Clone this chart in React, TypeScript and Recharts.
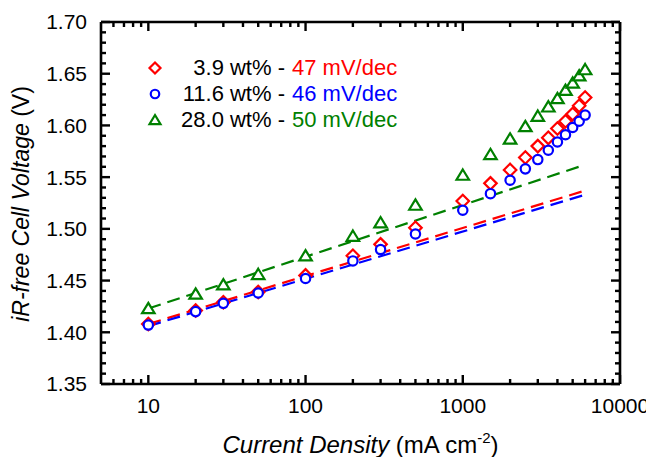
import { ComposedChart, Scatter, XAxis, YAxis, Legend, Label } from "recharts"

// current density (mA cm-2)
const currentDensity = [10, 20, 30, 50, 100, 200, 300, 500, 1000, 1500, 2000, 2500, 3000, 3500, 4000, 4500, 5000, 5500, 6000]
// iR-free cell voltage (V)
const voltage39 = [1.408, 1.421, 1.429, 1.439, 1.455, 1.474, 1.485, 1.501, 1.527, 1.544, 1.557, 1.569, 1.58, 1.588, 1.597, 1.604, 1.611, 1.619, 1.627]
const voltage116 = [1.407, 1.42, 1.428, 1.438, 1.452, 1.469, 1.48, 1.495, 1.518, 1.534, 1.547, 1.558, 1.567, 1.576, 1.584, 1.591, 1.598, 1.604, 1.61]
const voltage280 = [1.423, 1.437, 1.446, 1.456, 1.474, 1.493, 1.506, 1.523, 1.552, 1.572, 1.587, 1.599, 1.609, 1.618, 1.626, 1.634, 1.641, 1.648, 1.654]

// Tafel fit end points
const fitRange = [10, 6000]
const fit39 = [1.408, 1.537]
const fit116 = [1.406, 1.533]
const fit280 = [1.423, 1.562]

const loadings = ["3.9 wt%", "11.6 wt%", "28.0 wt%"]
const slopes = ["47 mV/dec", "46 mV/dec", "50 mV/dec"]
const colors = ["#ff0000", "#0000ff", "#008000"]

const xMajor = [10, 100, 1000, 10000]
const xMinor = [6, 7, 8, 9, 20, 30, 40, 50, 60, 70, 80, 90, 200, 300, 400, 500, 600, 700, 800, 900, 2000, 3000, 4000, 5000, 6000, 7000, 8000, 9000]
const yMajor = [1.35, 1.4, 1.45, 1.5, 1.55, 1.6, 1.65, 1.7]

const yMinor: number[] = []
yMajor.slice(0, -1).forEach((v) => {
  for (let k = 1; k < 5; k++) yMinor.push(+(v + k * 0.01).toFixed(2))
})
const xTicks = [...xMajor, ...xMinor].sort((a, b) => a - b)
const yTicks = [...yMajor, ...yMinor].sort((a, b) => a - b)

const FONT = "'Liberation Sans', Arial, sans-serif"
const W = 646
const H = 449
const GAP = 14
const MAJOR_LEN = 9
const MINOR_LEN = 5
const TICK_W = 2.4

const toPoints = (xs: number[], ys: number[]) => xs.map((x, i) => ({ x, y: ys[i] }))

const isMajor = (list: number[], v: number) => list.some((m) => Math.abs(m - v) < 1e-6)

function Marker({ kind, cx, cy, size, color }: { kind: number; cx: number; cy: number; size: number; color: string }) {
  const h = size / 2
  if (kind === 0) {
    return (
      <polygon
        points={`${cx},${cy - h} ${cx + h},${cy} ${cx},${cy + h} ${cx - h},${cy}`}
        fill="#fff"
        stroke={color}
        strokeWidth={2.2}
      />
    )
  }
  if (kind === 1) {
    return <circle cx={cx} cy={cy} r={h * 0.85} fill="#fff" stroke={color} strokeWidth={2.2} />
  }
  return (
    <polygon
      points={`${cx},${cy - h * 0.9} ${cx + h},${cy + h * 0.75} ${cx - h},${cy + h * 0.75}`}
      fill="#fff"
      stroke={color}
      strokeWidth={2.2}
    />
  )
}

// tick marks point into the plot, labels only on the major ticks
function renderXTick(props: any, side: string) {
  const x = Number(props.x)
  const y = Number(props.y)
  const v = props.payload.value
  const major = isMajor(xMajor, v)
  const len = major ? MAJOR_LEN : MINOR_LEN
  if (side === "top") {
    return <line x1={x} x2={x} y1={y} y2={y + len} stroke="#000" strokeWidth={TICK_W} />
  }
  const edge = y - GAP
  return (
    <g>
      <line x1={x} x2={x} y1={edge} y2={edge - len} stroke="#000" strokeWidth={TICK_W} />
      {major && (
        <text x={x} y={y} dy="0.71em" textAnchor="middle" fontSize={21} fill="#000">
          {v}
        </text>
      )}
    </g>
  )
}

function renderYTick(props: any, side: string) {
  const x = Number(props.x)
  const y = Number(props.y)
  const v = props.payload.value
  const major = isMajor(yMajor, v)
  const len = major ? MAJOR_LEN : MINOR_LEN
  if (side === "right") {
    return <line x1={x} x2={x - len} y1={y} y2={y} stroke="#000" strokeWidth={TICK_W} />
  }
  const edge = x + GAP
  return (
    <g>
      <line x1={edge} x2={edge + len} y1={y} y2={y} stroke="#000" strokeWidth={TICK_W} />
      {major && (
        <text x={x} y={y} dy="0.355em" textAnchor="end" fontSize={21} fill="#000">
          {v.toFixed(2)}
        </text>
      )}
    </g>
  )
}

function LegendBox() {
  return (
    <div style={{ fontFamily: FONT, fontSize: 22, color: "#000" }}>
      {loadings.map((name, i) => (
        <div key={name} style={{ display: "flex", alignItems: "center", height: 26 }}>
          <svg width={20} height={20}>
            <Marker kind={i} cx={10} cy={10} size={i === 1 ? 10 : 11} color={colors[i]} />
          </svg>
          <span style={{ width: 120, textAlign: "right", whiteSpace: "nowrap" }}>{name} -</span>
          <span style={{ marginLeft: 7, color: colors[i], whiteSpace: "nowrap" }}>{slopes[i]}</span>
        </div>
      ))}
    </div>
  )
}

const series = [voltage39, voltage116, voltage280]
const fits = [fit39, fit116, fit280]
const axisLine = { stroke: "#000", strokeWidth: 2.6 }

export default function App() {
  return (
    <div style={{ width: W, height: H, position: "relative", fontFamily: FONT }}>
      <ComposedChart width={W} height={H} margin={{ top: 13, right: 33, bottom: 0, left: 0 }}>
        <XAxis
          xAxisId="b"
          dataKey="x"
          type="number"
          scale="log"
          domain={[5, 10000]}
          allowDataOverflow
          ticks={xTicks}
          interval={0}
          tickSize={0}
          tickMargin={GAP}
          tickLine={false}
          height={73}
          axisLine={axisLine}
          tick={(p: any) => renderXTick(p, "bottom")}
        >
          <Label
            content={(p: any) => {
              const vb = p.viewBox
              return (
                <text x={vb.x + vb.width / 2} y={vb.y + vb.height - 4} textAnchor="middle" fontSize={24} fill="#000">
                  <tspan fontStyle="italic">Current Density</tspan>
                  <tspan> (mA cm</tspan>
                  <tspan dy={-10} fontSize={15}>-2</tspan>
                  <tspan dy={10}>)</tspan>
                </text>
              )
            }}
          />
        </XAxis>
        <XAxis
          xAxisId="t"
          orientation="top"
          dataKey="x"
          type="number"
          scale="log"
          domain={[5, 10000]}
          allowDataOverflow
          ticks={xTicks}
          interval={0}
          tickSize={0}
          tickMargin={0}
          tickLine={false}
          height={1}
          axisLine={axisLine}
          tick={(p: any) => renderXTick(p, "top")}
        />
        <YAxis
          yAxisId="l"
          dataKey="y"
          type="number"
          domain={[1.35, 1.7]}
          allowDataOverflow
          ticks={yTicks}
          interval={0}
          tickSize={0}
          tickMargin={GAP}
          tickLine={false}
          width={93}
          axisLine={axisLine}
          tick={(p: any) => renderYTick(p, "left")}
        >
          <Label
            content={(p: any) => {
              const vb = p.viewBox
              const cx = vb.x + 21
              const cy = vb.y + vb.height / 2 + 1
              return (
                <text x={cx} y={cy} textAnchor="middle" fontSize={23} fill="#000" transform={`rotate(-90 ${cx} ${cy})`}>
                  <tspan fontStyle="italic">iR-free Cell Voltage</tspan>
                  <tspan> (V)</tspan>
                </text>
              )
            }}
          />
        </YAxis>
        <YAxis
          yAxisId="r"
          orientation="right"
          dataKey="y"
          type="number"
          domain={[1.35, 1.7]}
          allowDataOverflow
          ticks={yTicks}
          interval={0}
          tickSize={0}
          tickMargin={0}
          tickLine={false}
          width={1}
          axisLine={axisLine}
          tick={(p: any) => renderYTick(p, "right")}
        />
        <Legend
          layout="vertical"
          align="center"
          verticalAlign="middle"
          wrapperStyle={{ top: 47, left: 137, width: "auto" }}
          content={() => <LegendBox />}
        />
        {fits.map((f, i) => (
          <Scatter
            key={"fit" + i}
            xAxisId="b"
            yAxisId="l"
            data={toPoints(fitRange, f)}
            line={{ stroke: colors[i], strokeWidth: 2.2, strokeDasharray: "13 7" }}
            shape={() => <g />}
            legendType="none"
            isAnimationActive={false}
          />
        ))}
        {series.map((s, i) => (
          <Scatter
            key={loadings[i]}
            name={loadings[i]}
            xAxisId="b"
            yAxisId="l"
            data={toPoints(currentDensity, s)}
            shape={(p: any) => <Marker kind={i} cx={p.cx} cy={p.cy} size={i === 1 ? 11 : 12.5} color={colors[i]} />}
            isAnimationActive={false}
          />
        ))}
      </ComposedChart>
    </div>
  )
}
